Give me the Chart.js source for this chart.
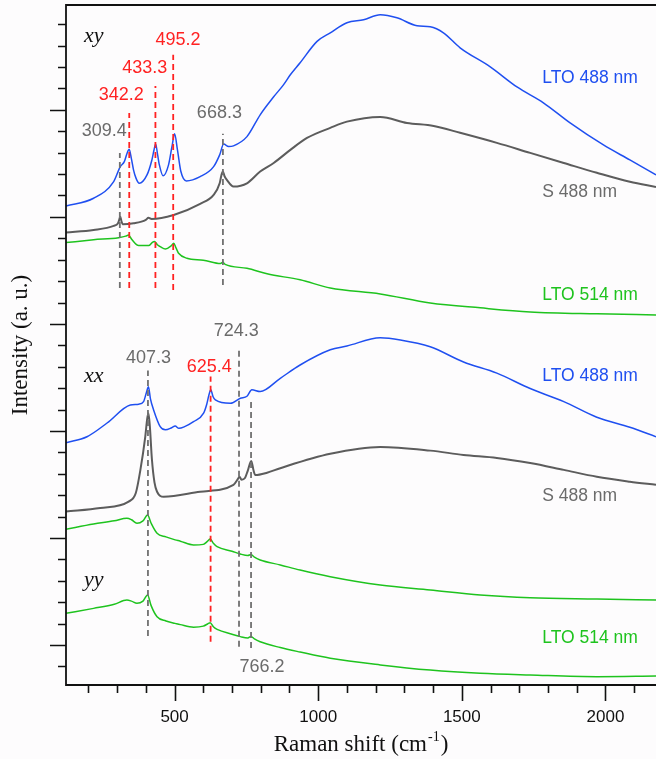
<!DOCTYPE html>
<html>
<head>
<meta charset="utf-8">
<script src="https://cdn.jsdelivr.net/npm/chart.js@4/dist/chart.umd.min.js"></script>
<style>
  html, body { margin: 0; padding: 0; background: #fdfcfd; }
  #wrap { width: 656px; height: 759px; }
</style>
</head>
<body>
<div id="wrap"><canvas id="raman" width="656" height="759"></canvas></div>
<script>
// Raman spectra, intensity in arbitrary units (one unit = one minor tick)
const xTickLabels = [500, 1000, 1500, 2000];

// xy geometry
const xyLto488Shift = [122, 218, 288, 311, 325, 334, 342, 350, 357, 366, 377, 404, 421, 428, 434, 441, 447, 460, 479, 491, 500, 510, 522, 541, 589, 636, 657, 671, 688, 705, 752, 798, 845, 879, 903, 937, 996, 1042, 1100, 1158, 1216, 1274, 1344, 1390, 1436, 1494, 1599, 1692, 1784, 1877, 1993, 2085, 2176];
const xyLto488Int = [20.51, 20.87, 21.65, 22.35, 22.58, 22.95, 23.16, 22.70, 22.20, 21.80, 21.57, 21.96, 22.66, 23.10, 23.41, 22.90, 22.43, 21.92, 22.43, 23.29, 23.88, 23.13, 22.12, 21.68, 21.88, 22.35, 22.90, 23.40, 23.29, 23.32, 23.75, 24.77, 25.61, 26.17, 26.64, 27.20, 28.20, 28.60, 29.07, 29.21, 29.44, 29.30, 28.93, 28.88, 28.60, 27.90, 27.01, 26.07, 25.33, 24.39, 23.36, 22.66, 21.96];

const xyS488Shift = [122, 218, 288, 303, 308, 311, 315, 319, 357, 400, 409, 420, 497, 589, 636, 657, 663, 668, 674, 682, 705, 752, 798, 845, 903, 961, 1042, 1100, 1216, 1309, 1402, 1494, 1622, 1738, 1855, 1970, 2085, 2176];
const xyS488Int = [19.27, 19.39, 19.58, 19.70, 19.90, 20.01, 19.80, 19.66, 19.70, 19.86, 19.96, 19.90, 20.09, 20.61, 21.03, 21.57, 21.95, 22.12, 21.90, 21.73, 21.42, 21.57, 22.12, 22.52, 23.13, 23.69, 24.16, 24.45, 24.67, 24.39, 24.25, 23.93, 23.46, 22.99, 22.52, 22.06, 21.64, 21.40];

const xyLto514Shift = [122, 218, 305, 330, 340, 346, 352, 375, 410, 422, 430, 440, 450, 468, 488, 497, 505, 514, 543, 600, 660, 668, 676, 752, 822, 937, 1042, 1216, 1390, 1564, 1738, 1970, 2176];
const xyLto514Int = [18.80, 18.93, 19.03, 19.10, 19.16, 19.05, 18.93, 18.66, 18.66, 18.80, 18.85, 18.70, 18.61, 18.50, 18.65, 18.77, 18.55, 18.30, 18.07, 17.98, 17.82, 17.88, 17.78, 17.60, 17.34, 17.06, 16.68, 16.40, 15.98, 15.75, 15.56, 15.47, 15.42];

// xx geometry
const xxLto488Shift = [122, 195, 265, 346, 375, 392, 402, 409, 416, 427, 450, 468, 490, 502, 515, 535, 566, 601, 612, 620, 626, 634, 642, 694, 729, 752, 769, 798, 868, 937, 1042, 1100, 1216, 1286, 1390, 1506, 1622, 1738, 1855, 1970, 2085, 2176];
const xxLto488Int = [9.45, 9.73, 10.37, 11.21, 11.25, 11.37, 11.80, 12.07, 11.50, 10.98, 10.20, 10.05, 10.15, 10.23, 10.12, 10.20, 10.43, 10.83, 11.25, 11.70, 11.92, 11.60, 11.45, 11.29, 11.53, 11.62, 11.92, 11.84, 12.46, 13.08, 13.79, 13.97, 14.35, 14.25, 13.93, 13.22, 12.70, 11.98, 11.37, 10.64, 10.17, 9.73];

const xxS488Shift = [122, 241, 340, 365, 381, 398, 405, 409, 414, 421, 430, 439, 462, 589, 705, 720, 726, 733, 745, 755, 767, 775, 781, 822, 868, 1042, 1216, 1390, 1506, 1622, 1738, 1855, 1970, 2085, 2176];
const xxS488Int = [6.23, 6.40, 6.70, 7.10, 8.18, 9.74, 10.60, 10.83, 10.20, 8.69, 7.60, 7.16, 6.93, 7.16, 7.48, 7.75, 7.86, 7.72, 7.80, 8.15, 8.60, 8.15, 7.94, 8.05, 8.26, 8.93, 9.25, 9.08, 8.88, 8.74, 8.50, 8.18, 7.86, 7.63, 7.48];

const xxLto514Shift = [122, 218, 290, 334, 350, 369, 390, 406, 418, 439, 470, 502, 520, 566, 600, 615, 624, 635, 648, 700, 729, 755, 766, 778, 798, 868, 937, 1042, 1216, 1390, 1564, 1738, 1970, 2176];
const xxLto514Int = [5.41, 5.65, 5.80, 5.92, 5.85, 5.69, 5.80, 6.07, 5.70, 5.22, 5.05, 4.91, 4.85, 4.67, 4.70, 4.85, 4.95, 4.75, 4.59, 4.38, 4.25, 4.18, 4.23, 4.10, 3.97, 3.74, 3.50, 3.19, 2.80, 2.57, 2.34, 2.21, 2.15, 2.10];

// yy geometry
const yyLto514Shift = [122, 218, 290, 334, 350, 369, 390, 406, 418, 439, 470, 502, 520, 566, 600, 615, 624, 635, 648, 700, 729, 755, 766, 778, 798, 868, 937, 1042, 1216, 1390, 1564, 1738, 1970, 2176];
const yyLto514Int = [1.48, 1.71, 1.90, 2.10, 2.05, 1.95, 2.05, 2.34, 1.85, 1.32, 1.12, 1.01, 0.95, 0.83, 0.88, 0.98, 1.04, 0.85, 0.73, 0.50, 0.39, 0.33, 0.40, 0.28, 0.15, -0.12, -0.33, -0.62, -0.93, -1.17, -1.32, -1.40, -1.48, -1.45];

// marked peaks
const peakShift = [309.4, 342.2, 433.3, 495.2, 668.3, 407.3, 625.4, 724.3, 766.2];
const peakTop = [22.99, 24.86, 26.12, 27.57, 23.88, 12.82, 12.54, 13.86, 11.37];
const peakBottom = [16.68, 16.68, 16.68, 16.59, 16.82, 0.42, 0.15, -0.08, -0.14];
const peakIsRed = [false, true, true, true, false, false, true, false, false];

const BLUE = '#1f4ff0', GRAY = '#5c5c5c', GREEN = '#1ec31e', RED = '#ff2222';
const GRAY_TXT = '#6b6b6b', DASH_GRAY = '#707070';

const pts = (xs, ys) => xs.map((v, i) => ({ x: v, y: ys[i] }));

const curve = (xs, ys, color, width) => ({
  data: pts(xs, ys),
  borderColor: color,
  borderWidth: width,
  pointRadius: 0,
  cubicInterpolationMode: 'monotone',
  order: 1,
});

const datasets = [
  curve(xyLto488Shift, xyLto488Int, BLUE, 1.5),
  curve(xyS488Shift, xyS488Int, GRAY, 2),
  curve(xyLto514Shift, xyLto514Int, GREEN, 1.5),
  curve(xxLto488Shift, xxLto488Int, BLUE, 1.5),
  curve(xxS488Shift, xxS488Int, GRAY, 2),
  curve(xxLto514Shift, xxLto514Int, GREEN, 1.5),
  curve(yyLto514Shift, yyLto514Int, GREEN, 1.5),
];

peakShift.forEach((p, i) => {
  datasets.push({
    data: [{ x: p, y: peakBottom[i] }, { x: p, y: peakTop[i] }],
    borderColor: peakIsRed[i] ? RED : DASH_GRAY,
    borderWidth: 1.8,
    borderDash: [6, 4],
    pointRadius: 0,
    order: 0,
  });
});

// text annotations, placed in data coordinates
const peakNotes = [
  { t: '309.4', x: 255, y: 23.99, c: GRAY_TXT },
  { t: '342.2', x: 314, y: 25.70, c: RED },
  { t: '433.3', x: 396, y: 26.95, c: RED },
  { t: '495.2', x: 512, y: 28.27, c: RED },
  { t: '668.3', x: 656, y: 24.85, c: GRAY_TXT },
  { t: '407.3', x: 409, y: 13.40, c: GRAY_TXT },
  { t: '625.4', x: 621, y: 12.98, c: RED },
  { t: '724.3', x: 715, y: 14.67, c: GRAY_TXT },
  { t: '766.2', x: 804, y: -1.01, c: GRAY_TXT },
];
const nameNotes = [
  { t: 'LTO 488 nm', y: 26.46, c: BLUE },
  { t: 'S 488 nm', y: 21.17, c: GRAY_TXT },
  { t: 'LTO 514 nm', y: 16.32, c: GREEN },
  { t: 'LTO 488 nm', y: 12.54, c: BLUE },
  { t: 'S 488 nm', y: 6.96, c: GRAY_TXT },
  { t: 'LTO 514 nm', y: 0.31, c: GREEN },
];
const geomNotes = [
  { t: 'xy', y: 28.43 },
  { t: 'xx', y: 12.54 },
  { t: 'yy', y: 3.04 },
];

const overlay = {
  id: 'overlay',
  beforeDraw(chart) {
    const ctx = chart.ctx;
    ctx.save();
    ctx.fillStyle = '#fdfcfd';
    ctx.fillRect(0, 0, chart.width, chart.height);
    ctx.restore();
  },
  afterDraw(chart) {
    const { ctx, chartArea: a, scales: { x, y } } = chart;
    ctx.save();
    ctx.strokeStyle = '#111';
    ctx.lineWidth = 1.8;
    ctx.beginPath();
    ctx.moveTo(a.right, a.top);
    ctx.lineTo(a.left, a.top);
    ctx.lineTo(a.left, a.bottom);
    ctx.lineTo(a.right, a.bottom);
    ctx.stroke();

    // ticks: minor every 100 cm-1 / 1 unit, major every 500 / 5
    ctx.lineWidth = 1.6;
    ctx.beginPath();
    for (let v = 200; v <= 2100; v += 100) {
      const px = Math.round(x.getPixelForValue(v)) + 0.5;
      ctx.moveTo(px, a.bottom);
      ctx.lineTo(px, a.bottom + (v % 500 === 0 ? 16 : 8));
    }
    for (let v = -1; v <= 29; v++) {
      const py = Math.round(y.getPixelForValue(v)) + 0.5;
      ctx.moveTo(a.left, py);
      ctx.lineTo(a.left - (v % 5 === 0 ? 16 : 8), py);
    }
    ctx.stroke();

    ctx.textBaseline = 'middle';
    ctx.textAlign = 'center';
    ctx.font = '18px "Liberation Sans", Arial, sans-serif';
    peakNotes.forEach(n => {
      ctx.fillStyle = n.c;
      ctx.fillText(n.t, x.getPixelForValue(n.x), y.getPixelForValue(n.y));
    });

    ctx.textAlign = 'left';
    ctx.font = '17.5px "Liberation Sans", Arial, sans-serif';
    nameNotes.forEach(n => {
      ctx.fillStyle = n.c;
      ctx.fillText(n.t, x.getPixelForValue(1780), y.getPixelForValue(n.y));
    });

    ctx.fillStyle = '#111';
    ctx.font = 'italic 22px "Liberation Serif", "Times New Roman", serif';
    geomNotes.forEach(n => {
      ctx.fillText(n.t, x.getPixelForValue(185), y.getPixelForValue(n.y));
    });

    // axis titles
    ctx.font = '23px "Liberation Serif", "Times New Roman", serif';
    ctx.textBaseline = 'alphabetic';
    const main = 'Raman shift (cm';
    const supFont = '14px "Liberation Serif", "Times New Roman", serif';
    const wMain = ctx.measureText(main).width;
    const wClose = ctx.measureText(')').width;
    ctx.font = supFont;
    const wSup = ctx.measureText('-1').width;
    const total = wMain + wSup + wClose + 2;
    let tx = (a.left + a.right) / 2 - total / 2;
    const base = 751;
    ctx.font = '23px "Liberation Serif", "Times New Roman", serif';
    ctx.fillText(main, tx, base);
    tx += wMain + 1;
    ctx.font = supFont;
    ctx.fillText('-1', tx, base - 10);
    tx += wSup + 1;
    ctx.font = '23px "Liberation Serif", "Times New Roman", serif';
    ctx.fillText(')', tx, base);

    ctx.translate(21, (a.top + a.bottom) / 2);
    ctx.rotate(-Math.PI / 2);
    ctx.textAlign = 'center';
    ctx.textBaseline = 'middle';
    ctx.fillText('Intensity (a. u.)', 0, 0);
    ctx.restore();
  },
};

new Chart(document.getElementById('raman'), {
  type: 'line',
  data: { datasets },
  options: {
    responsive: false,
    animation: false,
    layout: { padding: { top: 5, right: 0, left: 0, bottom: 0 } },
    plugins: { legend: { display: false }, tooltip: { enabled: false } },
    scales: {
      x: {
        type: 'linear',
        min: 122,
        max: 2176,
        grid: { display: false, drawTicks: false },
        border: { display: false },
        afterBuildTicks: s => { s.ticks = xTickLabels.map(v => ({ value: v })); },
        afterFit: s => { s.height = 74; },
        ticks: {
          padding: 22,
          maxRotation: 0,
          color: '#111',
          callback: v => String(v),
          font: { family: '"Liberation Sans", Arial, sans-serif', size: 17 },
        },
      },
      y: {
        type: 'linear',
        min: -1.87,
        max: 29.9,
        grid: { display: false, drawTicks: false },
        border: { display: false },
        ticks: { display: false },
        afterFit: s => { s.width = 66; },
      },
    },
  },
  plugins: [overlay],
});
</script>
</body>
</html>
